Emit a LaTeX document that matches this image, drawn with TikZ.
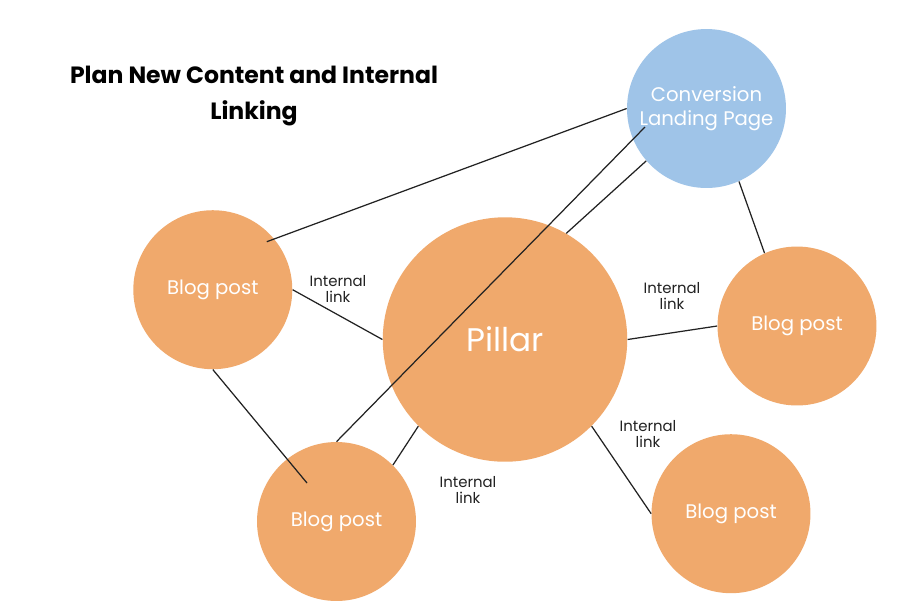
\documentclass[tikz,border=0pt]{standalone}
\usepackage{fontspec}
\setmainfont{Poppins}
\usepackage{tikz}
\usetikzlibrary{positioning,calc}
\definecolor{postorange}{RGB}{240,169,108}
\definecolor{landblue}{RGB}{159,196,232}
\definecolor{linkgray}{RGB}{34,34,34}

\begin{document}
\begin{tikzpicture}[
    x=0.02cm, y=-0.02cm,
    post/.style={
		circle,
		fill=postorange,
		text=white,
		inner sep=0pt,
		minimum size=3.18cm,
		font=\fontsize{11.2}{13}\selectfont
	},
	pillar/.style={
		post,
		minimum size=4.89cm,
		font=\fontsize{18.6}{22}\selectfont
	},
	landing/.style={
		post,
		fill=landblue,
		align=center,
		font=\fontsize{11.2}{13.6}\selectfont
	},
	linklabel/.style={
		align=center,
		text=linkgray,
		inner sep=0pt,
		font=\fontsize{8.5}{9.5}\selectfont
	},
	link/.style={
		draw=linkgray,
		line width=0.7pt
	}
  ]
  \fill [white] (0,0) rectangle (900,600);
  \useasboundingbox (0,0) rectangle (900,600);

    % title
  \node [align=center, font=\fontsize{13.4}{20}\selectfont\bfseries] (title) at (254,96)
 {Plan New Content and Internal\\Linking};

    % the circles
  \node [landing] (landing) at (706.5,108.5) {Conversion\\Landing Page};
  \node [pillar] (pillar) at (505,339.5) {Pillar};
  \node [post] (postl) at (212.8,289.7) {Blog post};
  \node [post] (postr) at (797,326) {Blog post};
  \node [post] (postbl) at (336.5,521.5) {Blog post};
  \node [post] (postbr) at (731,513.7) {Blog post};

  \coordinate (landin) at ($(landing)+(-61.5,18.5)$);
  \coordinate (postlin) at ($(postl)+(54,-48)$);
  \coordinate (postblin) at ($(postbl)+(-29.5,-38.5)$);

    % the links
  \draw [link] (landing.west) -- (postlin);
  \draw [link] (landin) -- (postbl.north);
  \draw [link] (landing.221) -- (pillar.60);
  \draw [link] (landing.-66) -- (postr.114);
  \draw [link] (postl.east) -- (pillar.west);
  \draw [link] (postl.south) -- (postblin);
  \draw [link] (pillar.225) -- (postbl.45);
  \draw [link] (pillar.east) -- (postr.west);
  \draw [link] (pillar.-45) -- (postbr.west);

  \node [linklabel] (lab1) at (338,289) {Internal\\link};
  \node [linklabel] (lab2) at (672,296) {Internal\\link};
  \node [linklabel] (lab3) at (648,434) {Internal\\link};
  \node [linklabel] (lab4) at (468,490) {Internal\\link};

\end{tikzpicture}
\end{document}
